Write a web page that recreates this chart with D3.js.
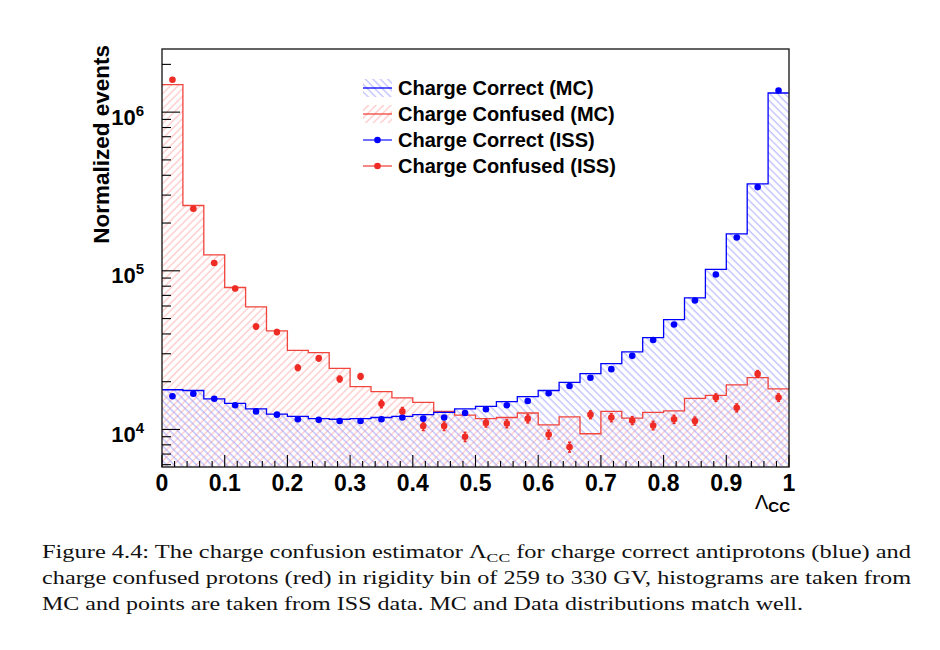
<!DOCTYPE html>
<html><head><meta charset="utf-8">
<script src="https://cdn.jsdelivr.net/npm/d3@7"></script>
<style>html,body{margin:0;padding:0;background:#fff;}svg{display:block;}</style>
</head><body>
<svg id="c" width="940" height="650"></svg>
<script>
// ---- data ----
const nBins = 30;
const binEdges = d3.range(nBins + 1).map(i => i / nBins);
const mcCorrect = [1.78e4,1.76e4,1.56e4,1.46e4,1.35e4,1.25e4,1.21e4,1.17e4,1.16e4,1.17e4,1.19e4,1.21e4,1.24e4,1.28e4,1.35e4,1.40e4,1.50e4,1.61e4,1.76e4,1.98e4,2.25e4,2.60e4,3.08e4,3.79e4,4.92e4,6.76e4,1.02e5,1.71e5,3.53e5,1.32e6];
const mcConfused = [1.49e6,2.58e5,1.26e5,7.85e4,5.92e4,4.18e4,3.15e4,3.05e4,2.43e4,1.86e4,1.73e4,1.58e4,1.48e4,1.30e4,1.23e4,1.17e4,1.19e4,1.27e4,1.07e4,1.20e4,9.4e3,1.30e4,1.18e4,1.28e4,1.31e4,1.57e4,1.64e4,1.91e4,2.12e4,1.80e4];
const issCorrect = [1.62e4,1.68e4,1.56e4,1.42e4,1.30e4,1.24e4,1.16e4,1.15e4,1.13e4,1.13e4,1.16e4,1.19e4,1.17e4,1.19e4,1.27e4,1.34e4,1.42e4,1.51e4,1.69e4,1.88e4,2.12e4,2.40e4,2.91e4,3.66e4,4.59e4,6.50e4,9.48e4,1.62e5,3.37e5,1.37e6];
const issConfused = [1.60e6,2.46e5,1.12e5,7.74e4,4.45e4,4.11e4,2.45e4,2.81e4,2.08e4,2.16e4,1.45e4,1.30e4,1.05e4,1.05e4,9.0e3,1.10e4,1.09e4,1.17e4,9.3e3,7.75e3,1.24e4,1.19e4,1.14e4,1.06e4,1.16e4,1.13e4,1.59e4,1.37e4,2.24e4,1.59e4];
const issConfusedErr = [2.0e4,5.0e3,3.0e3,2.3e3,1.6e3,1.5e3,1.0e3,1.1e3,900,900,800,750,650,650,600,650,650,700,600,550,700,700,650,650,680,660,850,780,1100,850];
const xMajorTicks = [0,0.1,0.2,0.3,0.4,0.5,0.6,0.7,0.8,0.9,1];
const xTickLabels = ["0","0.1","0.2","0.3","0.4","0.5","0.6","0.7","0.8","0.9","1"];
const yMajorTicks = [1e4,1e5,1e6];
const yTickExponents = ["4","5","6"];
const legendLabels = ["Charge Correct (MC)","Charge Confused (MC)","Charge Correct (ISS)","Charge Confused (ISS)"];
const yTitle = "Normalized events";
const captionLines = [
  ["Figure 4.4: The charge confusion estimator Λ", "CC", " for charge correct antiprotons (blue) and"],
  ["charge confused protons (red) in rigidity bin of 259 to 330 GV, histograms are taken from"],
  ["MC and points are taken from ISS data. MC and Data distributions match well."]
];

// ---- layout ----
const L = 162, R = 789, T = 49, B = 467;
const blue = "#0000ff", red = "#ee2b24", redLine = "#f0443c";
const svg = d3.select("#c");
const x = d3.scaleLinear().domain([0, 1]).range([L, R]);
const y = d3.scaleLog().domain([5800, 2.5e6]).range([B, T]);

const defs = svg.append("defs");
function hatch(id, angle, color) {
  const p = defs.append("pattern").attr("id", id).attr("patternUnits", "userSpaceOnUse")
    .attr("width", 5.3).attr("height", 10).attr("patternTransform", `rotate(${angle})`);
  p.append("line").attr("x1", 1).attr("y1", -1).attr("x2", 1).attr("y2", 11)
    .attr("stroke", color).attr("stroke-width", 0.8);
}
hatch("hRed", 45, "#ffa0a0");
hatch("hBlue", -45, "#9090ff");
defs.append("clipPath").attr("id", "plotClip").append("rect")
  .attr("x", L).attr("y", T).attr("width", R - L).attr("height", B - T);

const g = svg.append("g").attr("clip-path", "url(#plotClip)");

function stepData(vals) {
  const d = vals.map((v, i) => [binEdges[i], v]);
  d.push([1, vals[vals.length - 1]]);
  return d;
}
const area = d3.area().curve(d3.curveStepAfter).x(d => x(d[0])).y0(B).y1(d => y(d[1]));
const line = d3.line().curve(d3.curveStepAfter).x(d => x(d[0])).y(d => y(d[1]));

g.append("path").datum(stepData(mcConfused)).attr("d", area).attr("fill", "url(#hRed)");
g.append("path").datum(stepData(mcCorrect)).attr("d", area).attr("fill", "url(#hBlue)");
g.append("path").datum(stepData(mcConfused)).attr("d", line).attr("fill", "none").attr("stroke", redLine).attr("stroke-width", 1.3);
g.append("path").datum(stepData(mcCorrect)).attr("d", line).attr("fill", "none").attr("stroke", blue).attr("stroke-width", 1.3);

const centers = d3.range(nBins).map(i => (binEdges[i] + binEdges[i + 1]) / 2);
// error bars (red ISS)
const eb = g.append("g").attr("stroke", red).attr("stroke-width", 1.5);
centers.forEach((c, i) => {
  const v = issConfused[i], e = issConfusedErr[i];
  eb.append("line").attr("x1", x(c)).attr("x2", x(c)).attr("y1", y(v + e)).attr("y2", y(v - e));
  eb.append("line").attr("x1", x(c) - 1.5).attr("x2", x(c) + 1.5).attr("y1", y(v + e)).attr("y2", y(v + e));
  eb.append("line").attr("x1", x(c) - 1.5).attr("x2", x(c) + 1.5).attr("y1", y(v - e)).attr("y2", y(v - e));
});
g.selectAll("circle.b").data(issCorrect).join("circle").attr("class", "b")
  .attr("cx", (d, i) => x(centers[i])).attr("cy", d => y(d)).attr("r", 3.3).attr("fill", blue);
g.selectAll("circle.r").data(issConfused).join("circle").attr("class", "r")
  .attr("cx", (d, i) => x(centers[i])).attr("cy", d => y(d)).attr("r", 3.3).attr("fill", red);

// ---- frame & ticks ----
svg.append("rect").attr("x", L).attr("y", T).attr("width", R - L).attr("height", B - T)
  .attr("fill", "none").attr("stroke", "#222").attr("stroke-width", 1.4);
const tk = svg.append("g").attr("stroke", "#000").attr("stroke-width", 1.1);
d3.range(0, 1.0001, 0.02).forEach(t => {
  const major = Math.abs(t * 10 - Math.round(t * 10)) < 1e-6;
  tk.append("line").attr("x1", x(t)).attr("x2", x(t)).attr("y1", B).attr("y2", B - (major ? 12 : 6));
});
[3, 4, 5, 6].forEach(e => {
  for (let m = 1; m <= 9; m++) {
    const v = m * Math.pow(10, e);
    if (v < y.domain()[0] || v > y.domain()[1]) continue;
    tk.append("line").attr("x1", L).attr("x2", L + (m === 1 ? 18 : 9)).attr("y1", y(v)).attr("y2", y(v));
  }
});

const font = "'Liberation Sans', Arial, Helvetica, sans-serif";
svg.selectAll("text.xl").data(xMajorTicks).join("text").attr("class", "xl")
  .attr("x", d => x(d)).attr("y", 491).attr("text-anchor", "middle")
  .attr("font-family", font).attr("font-weight", "bold").attr("font-size", 23)
  .text((d, i) => xTickLabels[i]);

yMajorTicks.forEach((v, i) => {
  const t = svg.append("text").attr("x", 144).attr("y", y(v) + 12.5).attr("text-anchor", "end")
    .attr("font-family", font).attr("font-weight", "bold").attr("font-size", 22);
  t.append("tspan").text("10");
  t.append("tspan").attr("dy", -9).attr("font-size", 15).text(yTickExponents[i]);
});

svg.append("text").attr("transform", "translate(109,45) rotate(-90)").attr("text-anchor", "end")
  .attr("font-family", font).attr("font-weight", "bold").attr("font-size", 22.5).text(yTitle);

const xt = svg.append("text").attr("x", 790).attr("y", 509).attr("text-anchor", "end").attr("font-family", font);
xt.append("tspan").attr("font-size", 20).text("Λ");
xt.append("tspan").attr("font-size", 15).attr("font-weight", "bold").attr("dy", 3).text("CC");

// ---- legend ----
const lg = svg.append("g");
const rowsY = [88, 114, 140, 166];
const legStyles = [
  {type: "hist", pat: "url(#hBlue)", col: blue},
  {type: "hist", pat: "url(#hRed)", col: redLine},
  {type: "pt", col: blue},
  {type: "pt", col: red}
];
legendLabels.forEach((lab, i) => {
  const cy = rowsY[i], s = legStyles[i];
  if (s.type === "hist") {
    lg.append("rect").attr("x", 363).attr("y", cy - 9).attr("width", 29).attr("height", 18).attr("fill", s.pat);
    lg.append("line").attr("x1", 363).attr("x2", 392).attr("y1", cy).attr("y2", cy).attr("stroke", s.col).attr("stroke-width", 1.3);
  } else {
    lg.append("line").attr("x1", 363).attr("x2", 392).attr("y1", cy).attr("y2", cy).attr("stroke", s.col).attr("stroke-opacity", 0.75).attr("stroke-width", 1.5);
    lg.append("circle").attr("cx", 377.5).attr("cy", cy).attr("r", 3.3).attr("fill", s.col);
  }
  lg.append("text").attr("x", 398).attr("y", cy + 7).attr("font-family", font).attr("font-weight", "bold")
    .attr("font-size", 20).text(lab);
});

// ---- caption ----
const capFont = "'Liberation Serif', 'DejaVu Serif', serif";
const capY = [558, 584, 610];
const capLen = [869, 869, 761];
captionLines.forEach((parts, i) => {
  const t = svg.append("text").attr("x", 42).attr("y", capY[i]).attr("font-family", capFont).attr("font-size", 18)
    .attr("textLength", capLen[i]).attr("lengthAdjust", "spacingAndGlyphs").attr("fill", "#111");
  if (parts.length === 1) { t.text(parts[0]); }
  else {
    t.append("tspan").text(parts[0]);
    t.append("tspan").attr("font-size", 13).attr("dy", 4).text(parts[1]);
    t.append("tspan").attr("dy", -4).text(parts[2]);
  }
});
</script>
</body></html>
